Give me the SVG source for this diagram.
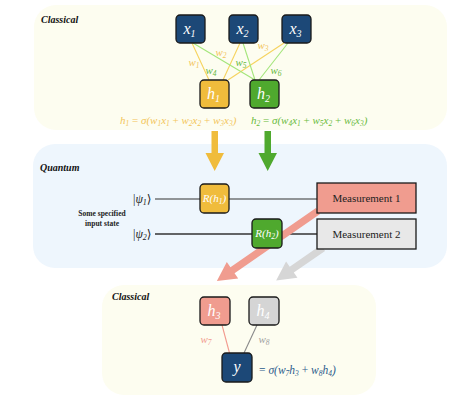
<svg xmlns="http://www.w3.org/2000/svg" width="464" height="402" viewBox="0 0 464 402">
<style>
.panel-c{fill:#fdfdf0}
.panel-q{fill:#eef6fd}
.sec{font-family:"Liberation Serif","DejaVu Serif",serif;font-style:italic;font-weight:bold;font-size:10px;fill:#111}
.box{stroke:#1a1a1a;stroke-width:1.3}
.navy{fill:#1c4877}
.yel{fill:#f0bc3c}
.grn{fill:#4fa92e}
.sal{fill:#f09c8f}
.gry{fill:#d5d5d5}
.lbl{font-family:"Liberation Serif","DejaVu Serif",serif;font-style:italic;font-size:16px;fill:#fff;text-anchor:middle}
.rl{font-family:"Liberation Serif","DejaVu Serif",serif;font-style:italic;font-size:11px;fill:#fff;text-anchor:middle}
.m{font-family:"Liberation Serif","DejaVu Serif",serif;font-style:italic}
.meas{font-family:"Liberation Serif","DejaVu Serif",serif;font-size:11px;fill:#222;text-anchor:middle}
.wire{stroke:#333;fill:none}
</style>
<rect class="panel-c" x="34" y="5" width="413" height="125" rx="22"/>
<rect class="panel-q" x="33" y="144" width="414" height="124" rx="22"/>
<rect class="panel-c" x="102" y="285" width="274" height="110" rx="22"/>
<text class="sec" x="41" y="23">Classical</text>
<text class="sec" x="40" y="171">Quantum</text>
<text class="sec" x="112" y="300">Classical</text>

<g id="connectors">
<g stroke-width="1.1" fill="none">
<line x1="192" y1="43" x2="209" y2="80" stroke="#f6d35e"/>
<line x1="240" y1="43" x2="223" y2="80" stroke="#f6d35e"/>
<line x1="284" y1="43" x2="228" y2="80" stroke="#f6d35e"/>
<line x1="193" y1="43" x2="255" y2="80" stroke="#a3e57a"/>
<line x1="243" y1="43" x2="255" y2="80" stroke="#a3e57a"/>
<line x1="288" y1="43" x2="259" y2="80" stroke="#a3e57a"/>
</g>
<g class="m" font-size="11">
<text x="194" y="66" text-anchor="middle" fill="#f2c35a">w<tspan font-size="7.5" dy="2">1</tspan></text>
<text x="221" y="56" text-anchor="middle" fill="#f2c35a">w<tspan font-size="7.5" dy="2">2</tspan></text>
<text x="263" y="49" text-anchor="middle" fill="#f2c35a">w<tspan font-size="7.5" dy="2">3</tspan></text>
<text x="211" y="74" text-anchor="middle" fill="#66b83b">w<tspan font-size="7.5" dy="2">4</tspan></text>
<text x="241" y="66" text-anchor="middle" fill="#66b83b">w<tspan font-size="7.5" dy="2">5</tspan></text>
<text x="276" y="74" text-anchor="middle" fill="#66b83b">w<tspan font-size="7.5" dy="2">6</tspan></text>
</g>
<polygon class="yel" points="211.5,131 218,131 218,153 224,153 214.7,171 205.5,153 211.5,153"/>
<polygon class="grn" points="264.5,131 271,131 271,153 277,153 267.7,171 258.5,153 264.5,153"/>
<line class="wire" x1="155" y1="199" x2="318" y2="199" stroke-width="1.2"/>
<line class="wire" x1="155" y1="234" x2="318" y2="234" stroke-width="1.6"/>
<polygon fill="#f09c8f" transform="translate(318,211) rotate(145.3)" points="0,-3.6 104,-3.6 104,-10 123,0 104,10 104,3.6 0,3.6"/>
<polygon fill="#d6d6d6" transform="translate(323,248) rotate(145.3)" points="0,-3.6 38,-3.6 38,-10 57,0 38,10 38,3.6 0,3.6"/>
<line x1="222" y1="325" x2="229.5" y2="353" stroke="#f29a8e" stroke-width="1.1"/>
<line x1="257" y1="325" x2="244" y2="353" stroke="#8a8a8a" stroke-width="1.1"/>
<text class="m" x="206" y="343" font-size="11" text-anchor="middle" fill="#f29a8e">w<tspan font-size="7.5" dy="2">7</tspan></text>
<text class="m" x="264" y="343" font-size="11" text-anchor="middle" fill="#a0a0a0">w<tspan font-size="7.5" dy="2">8</tspan></text>
</g>

<g id="x1"><rect class="box navy" x="176" y="15" width="29" height="28" rx="4"/><text class="lbl" x="189.5" y="34">x<tspan font-size="10" dy="3">1</tspan></text></g>
<g id="x2"><rect class="box navy" x="229" y="15" width="29" height="28" rx="4"/><text class="lbl" x="242.5" y="34">x<tspan font-size="10" dy="3">2</tspan></text></g>
<g id="x3"><rect class="box navy" x="282" y="15" width="29" height="28" rx="4"/><text class="lbl" x="295.5" y="34">x<tspan font-size="10" dy="3">3</tspan></text></g>
<g id="h1"><rect class="box yel" x="200" y="80" width="29" height="28" rx="4"/><text class="lbl" x="213.5" y="99">h<tspan font-size="10" dy="3">1</tspan></text></g>
<g id="h2"><rect class="box grn" x="250" y="80" width="29" height="28" rx="4"/><text class="lbl" x="263.5" y="99">h<tspan font-size="10" dy="3">2</tspan></text></g>
<g id="eq1"><text class="m" x="120" y="124" font-size="11" fill="#f3c559">h<tspan font-size="7.5" dy="2">1</tspan><tspan dy="-2" font-style="normal"> = </tspan>σ(w<tspan font-size="7.5" dy="2">1</tspan><tspan dy="-2">x</tspan><tspan font-size="7.5" dy="2">1</tspan><tspan dy="-2" font-style="normal"> + </tspan>w<tspan font-size="7.5" dy="2">2</tspan><tspan dy="-2">x</tspan><tspan font-size="7.5" dy="2">2</tspan><tspan dy="-2" font-style="normal"> + </tspan>w<tspan font-size="7.5" dy="2">3</tspan><tspan dy="-2">x</tspan><tspan font-size="7.5" dy="2">3</tspan><tspan dy="-2">)</tspan></text></g>
<g id="eq2"><text class="m" x="251" y="124" font-size="11" fill="#69bb3c">h<tspan font-size="7.5" dy="2">2</tspan><tspan dy="-2" font-style="normal"> = </tspan>σ(w<tspan font-size="7.5" dy="2">4</tspan><tspan dy="-2">x</tspan><tspan font-size="7.5" dy="2">1</tspan><tspan dy="-2" font-style="normal"> + </tspan>w<tspan font-size="7.5" dy="2">5</tspan><tspan dy="-2">x</tspan><tspan font-size="7.5" dy="2">2</tspan><tspan dy="-2" font-style="normal"> + </tspan>w<tspan font-size="7.5" dy="2">6</tspan><tspan dy="-2">x</tspan><tspan font-size="7.5" dy="2">3</tspan><tspan dy="-2">)</tspan></text></g>

<g id="psi1"><text class="m" x="133" y="203" font-size="12" fill="#222"><tspan font-style="normal">|</tspan>ψ<tspan font-size="8" dy="2">1</tspan><tspan dy="-2" font-style="normal">⟩</tspan></text></g>
<g id="psi2"><text class="m" x="133" y="238" font-size="12" fill="#222"><tspan font-style="normal">|</tspan>ψ<tspan font-size="8" dy="2">2</tspan><tspan dy="-2" font-style="normal">⟩</tspan></text></g>
<g id="input-label"><text font-family="'Liberation Serif','DejaVu Serif',serif" font-weight="bold" font-size="7.5" fill="#222" text-anchor="middle"><tspan x="102" y="216">Some specified</tspan><tspan x="102" y="226">input state</tspan></text></g>
<g id="R1"><rect class="box yel" x="200" y="184" width="29" height="29" rx="4"/><text class="rl" x="214.5" y="202">R(h<tspan font-size="7.5" dy="2">1</tspan><tspan dy="-2">)</tspan></text></g>
<g id="R2"><rect class="box grn" x="252" y="219" width="30" height="29" rx="4"/><text class="rl" x="267" y="237">R(h<tspan font-size="7.5" dy="2">2</tspan><tspan dy="-2">)</tspan></text></g>
<g id="M1"><rect class="box sal" x="317" y="183" width="99" height="30"/><text class="meas" x="366.5" y="202">Measurement 1</text></g>
<g id="M2"><rect class="box" fill="#e8e8e8" x="317" y="219" width="99" height="30"/><text class="meas" x="366.5" y="238">Measurement 2</text></g>

<g id="h3"><rect class="box sal" x="200" y="297" width="30" height="28" rx="4"/><text class="lbl" x="214" y="316">h<tspan font-size="10" dy="3">3</tspan></text></g>
<g id="h4"><rect class="box gry" x="249" y="297" width="30" height="28" rx="4"/><text class="lbl" x="263" y="316">h<tspan font-size="10" dy="3">4</tspan></text></g>
<g id="y"><rect class="box navy" x="222" y="353" width="30" height="29" rx="4"/><text class="lbl" x="237" y="372">y</text></g>
<g id="eq3"><text class="m" x="259" y="374" font-size="11.5" fill="#2b5b8c"><tspan font-style="normal">= </tspan>σ(w<tspan font-size="7.5" dy="2">7</tspan><tspan dy="-2">h</tspan><tspan font-size="7.5" dy="2">3</tspan><tspan dy="-2" font-style="normal"> + </tspan>w<tspan font-size="7.5" dy="2">8</tspan><tspan dy="-2">h</tspan><tspan font-size="7.5" dy="2">4</tspan><tspan dy="-2">)</tspan></text></g>
</svg>
